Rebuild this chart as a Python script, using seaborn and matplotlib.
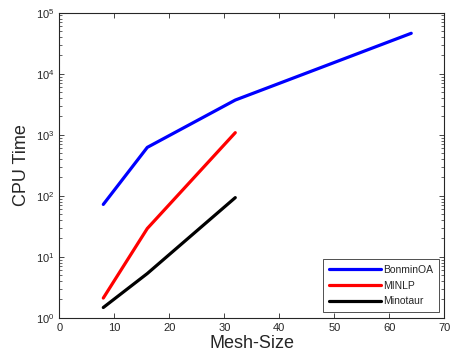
import matplotlib
matplotlib.use("Agg")
import matplotlib.pyplot as plt
import matplotlib.ticker as mticker
import numpy as np
import pandas as pd
import seaborn as sns

# CPU time (seconds) per solver against mesh size
mesh_bonmin = [8, 16, 32, 64]
cpu_bonmin = [72, 620, 3700, 46000]
mesh_minlp = [8, 16, 32]
cpu_minlp = [2.1, 29, 1080]
mesh_minotaur = [8, 16, 32]
cpu_minotaur = [1.47, 5.3, 93]

solvers = ["BonminOA", "MINLP", "Minotaur"]
colors = ["#0000ff", "#ff0000", "#000000"]

df = pd.concat([
    pd.DataFrame({"Mesh-Size": mesh_bonmin, "CPU Time": cpu_bonmin, "Solver": solvers[0]}),
    pd.DataFrame({"Mesh-Size": mesh_minlp, "CPU Time": cpu_minlp, "Solver": solvers[1]}),
    pd.DataFrame({"Mesh-Size": mesh_minotaur, "CPU Time": cpu_minotaur, "Solver": solvers[2]}),
])

sns.set_theme(style="white")
plt.rcParams["font.family"] = ["Liberation Sans", "DejaVu Sans"]
plt.rcParams["mathtext.fontset"] = "custom"
plt.rcParams["mathtext.rm"] = "Liberation Sans"
plt.rcParams["mathtext.it"] = "Liberation Sans"

fig = plt.figure(figsize=(4.51, 3.59), dpi=100)
ax = fig.add_axes([0.1315, 0.115, 0.985 - 0.1315, 0.9646 - 0.115])

sns.lineplot(data=df, x="Mesh-Size", y="CPU Time", hue="Solver",
             hue_order=solvers, palette=colors, linewidth=2.3, ax=ax)

ax.set_yscale("log")
ax.set_xlim(0, 70)
ax.set_ylim(1, 1e5)
ax.set_xticks(np.arange(0, 71, 10))
ax.yaxis.set_major_locator(mticker.LogLocator(base=10, numticks=100))
ax.yaxis.set_minor_locator(mticker.LogLocator(base=10, subs=np.arange(2, 10) * 1.0, numticks=100))
ax.yaxis.set_minor_formatter(mticker.NullFormatter())

axis_color = "#262626"
for s in ax.spines.values():
    s.set_color(axis_color)
    s.set_linewidth(0.8)
ax.tick_params(which="both", direction="in", bottom=True, left=True, top=True, right=True,
               colors=axis_color, labelsize=8)
ax.tick_params(which="major", length=3.5, width=0.6)
ax.tick_params(axis="y", which="minor", length=2, width=0.5, left=True, right=True)
ax.tick_params(axis="x", which="minor", bottom=False, top=False)

ax.set_xlabel("Mesh-Size", fontsize=13, color=axis_color, labelpad=2)
ax.set_ylabel("CPU Time", fontsize=13, color=axis_color, labelpad=4)

leg = ax.legend(loc="lower right", fontsize=7.5, frameon=True, fancybox=False,
                edgecolor="#000000", handlelength=5.0, handletextpad=0.2,
                borderpad=0.55, labelspacing=0.55, borderaxespad=0.55)
leg.get_frame().set_linewidth(0.6)
for line in leg.get_lines():
    line.set_linewidth(2.3)

fig.savefig("out.png", dpi=100)
